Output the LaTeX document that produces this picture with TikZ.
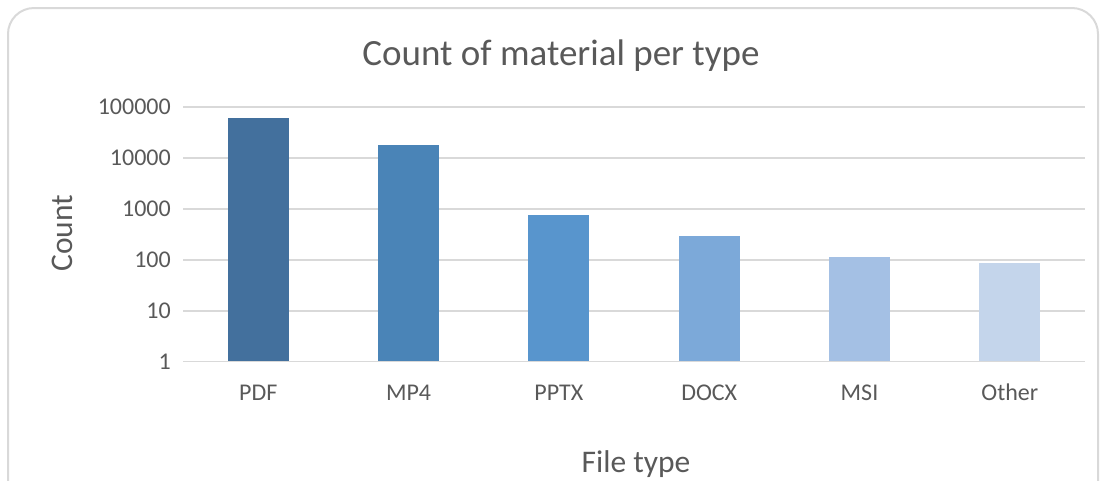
\documentclass[tikz,border=0pt]{standalone}
\usepackage{fontspec}
\setmainfont{Carlito}
\usetikzlibrary{positioning}
\definecolor{txtgray}{HTML}{595959}
\definecolor{gridgray}{HTML}{D9D9D9}
\definecolor{framegray}{HTML}{D9D9D9}
\definecolor{pdfcol}{HTML}{43709D}
\definecolor{mpcol}{HTML}{4A84B7}
\definecolor{pptcol}{HTML}{5895CD}
\definecolor{doccol}{HTML}{7CA9D9}
\definecolor{msicol}{HTML}{A4C0E4}
\definecolor{othcol}{HTML}{C4D5EB}
\newcommand{\baseY}{361.6}
\newcommand{\decade}{50.9}
\tikzset{
    framesty/.style={draw=framegray, line width=2pt, rounded corners=26pt},
    gridsty/.style={draw=gridgray, line width=1.6pt},
    barsty/.style={rectangle, inner sep=0pt, minimum width=61pt, anchor=south},
    ticksty/.style={text=txtgray, font=\fontsize{24}{28}\selectfont, anchor=east, inner sep=0pt},
    catsty/.style={text=txtgray, font=\fontsize{24}{28}\selectfont, anchor=base, inner sep=0pt},
    axtitsty/.style={text=txtgray, font=\fontsize{31.5}{36}\selectfont, inner sep=0pt},
    titlesty/.style={text=txtgray, font=\fontsize{37}{42}\selectfont, anchor=base, inner sep=0pt},
}

\begin{document}
\begin{tikzpicture}[x=1pt,y=-1pt]
\useasboundingbox (0,0) rectangle (1105,480);
\draw[framesty] (8,8) rectangle (1098,520);

% gridlines and value labels
\foreach \lab [count=\k from 0] in {1,10,100,1000,10000,100000}
{
  \draw[gridsty] (183,{\baseY-\decade*\k}) -- (1085,{\baseY-\decade*\k});
  \node[ticksty] (tick\k) at (171,{\baseY-\decade*\k}) {\lab};
}

% bars
\foreach \name/\lab/\hgt/\col [count=\i] in
  {pdf/PDF/243.6/pdfcol, mp/MP4/216.6/mpcol, ppt/PPTX/146.6/pptcol,
   doc/DOCX/125.6/doccol, msi/MSI/104.6/msicol, oth/Other/98.6/othcol}
{
  \node[barsty, fill=\col, minimum height=\hgt pt] (bar\name) at ({108+150.3*\i},\baseY) {};
  \node[catsty] (cat\name) at ({108+150.3*\i},400) {\lab};
}

\node[titlesty] (title) at (561,65) {Count of material per type};
\node[axtitsty, rotate=90] (ytitle) at (62,233) {Count};
\node[axtitsty, anchor=base] (xtitle) at (636,472) {File type};
\end{tikzpicture}
\end{document}
